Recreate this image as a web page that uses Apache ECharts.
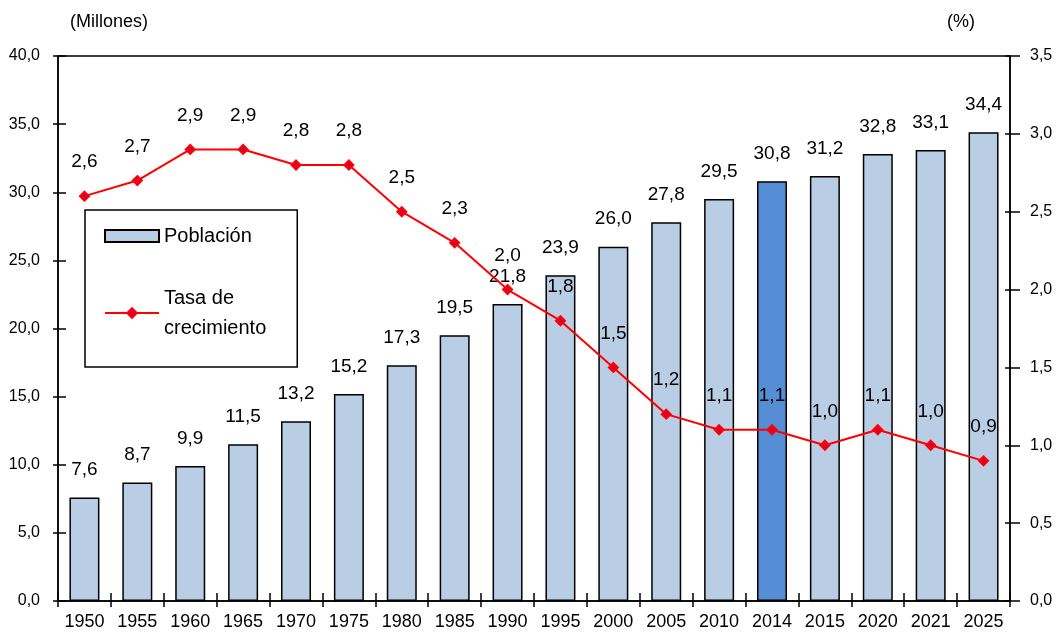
<!DOCTYPE html>
<html>
<head>
<meta charset="utf-8">
<script src="https://cdn.jsdelivr.net/npm/echarts@6/dist/echarts.min.js"></script>
<style>
  html, body { margin: 0; padding: 0; background: #fff; }
  #chart { width: 1060px; height: 634px; }
</style>
</head>
<body>
<div id="chart"></div>
<script>
// Years shown on the category axis
const years = ['1950', '1955', '1960', '1965', '1970', '1975', '1980', '1985', '1990',
  '1995', '2000', '2005', '2010', '2014', '2015', '2020', '2021', '2025'];

// Population, millions
const poblacion = [7.6, 8.7, 9.9, 11.5, 13.2, 15.2, 17.3, 19.5, 21.8,
  23.9, 26.0, 27.8, 29.5, 30.8, 31.2, 32.8, 33.1, 34.4];

// Annual growth rate, percent
const tasa = [2.6, 2.7, 2.9, 2.9, 2.8, 2.8, 2.5, 2.3, 2.0,
  1.8, 1.5, 1.2, 1.1, 1.1, 1.0, 1.1, 1.0, 0.9];

// Year whose bar is highlighted
const destacado = '2014';

const comma = v => v.toFixed(1).replace('.', ',');
const FONT = "'Liberation Sans', Arial, sans-serif";
const NARROW = "'Liberation Sans Narrow', 'Liberation Sans', Arial, sans-serif";

const chart = echarts.init(document.getElementById('chart'), null, { renderer: 'canvas' });

const barData = poblacion.map((v, i) => years[i] === destacado
  ? { value: v, itemStyle: { color: '#558ED5' } }
  : v);

const yLabel = { fontFamily: NARROW, fontSize: 16, color: '#000' };
const tickStyle = { color: '#000', width: 1.5 };

chart.setOption({
  animation: false,
  textStyle: { fontFamily: FONT, color: '#000' },
  grid: {
    left: 58, right: 50, top: 56, bottom: 33,
    show: true, borderColor: '#000', borderWidth: 1.5, backgroundColor: 'transparent'
  },
  legend: {
    left: 85, top: 210,
    orient: 'vertical',
    backgroundColor: '#fff',
    borderColor: '#000', borderWidth: 1.5, borderRadius: 0,
    padding: [11, 31, 9, 19],
    itemGap: 17,
    itemWidth: 54, itemHeight: 12,
    textStyle: { fontFamily: FONT, fontSize: 20, color: '#000', lineHeight: 30 },
    data: [
      { name: 'Población', icon: 'rect' },
      { name: 'Tasa de\ncrecimiento', textStyle: { padding: [30, 0, 0, 0] } }
    ]
  },
  xAxis: [
    {
      type: 'category', data: years, position: 'bottom',
      axisLine: { lineStyle: tickStyle },
      axisTick: { show: true, length: 6, lineStyle: tickStyle },
      axisLabel: { fontFamily: FONT, fontSize: 18, color: '#000', margin: 12, interval: 0 }
    },
    {
      // inner half of the crossing ticks on the category axis
      type: 'category', data: years, position: 'bottom', offset: 0,
      axisLine: { show: false },
      axisTick: { show: true, inside: true, length: 8, lineStyle: tickStyle },
      axisLabel: { show: false }
    }
  ],
  yAxis: [
    {
      type: 'value', min: 0, max: 40, interval: 5, position: 'left',
      name: '(Millones)', nameLocation: 'end', nameGap: 34,
      nameTextStyle: { fontFamily: FONT, fontSize: 18, color: '#000', align: 'left',
        verticalAlign: 'middle', padding: [0, 0, 0, 12] },
      axisLine: { show: true, lineStyle: tickStyle },
      axisTick: { show: true, length: 5, lineStyle: tickStyle },
      axisLabel: Object.assign({ margin: 18, formatter: comma }, yLabel),
      splitLine: { show: false }
    },
    {
      type: 'value', min: 0, max: 3.5, interval: 0.5, position: 'right',
      name: '(%)', nameLocation: 'end', nameGap: 34,
      nameTextStyle: { fontFamily: FONT, fontSize: 18, color: '#000', align: 'right',
        verticalAlign: 'middle', padding: [0, 35, 0, 0] },
      axisLine: { show: true, lineStyle: tickStyle },
      axisTick: { show: true, length: 10, lineStyle: tickStyle },
      axisLabel: Object.assign({ margin: 20, formatter: comma }, yLabel),
      splitLine: { show: false }
    },
    {
      // inner half of the crossing ticks, left scale
      type: 'value', min: 0, max: 40, interval: 5, position: 'left', offset: 0,
      axisLine: { show: false },
      axisTick: { show: true, inside: true, length: 8, lineStyle: tickStyle },
      axisLabel: { show: false }, splitLine: { show: false }
    },
    {
      // inner half of the crossing ticks, right scale
      type: 'value', min: 0, max: 3.5, interval: 0.5, position: 'right', offset: 0,
      axisLine: { show: false },
      axisTick: { show: true, inside: true, length: 5, lineStyle: tickStyle },
      axisLabel: { show: false }, splitLine: { show: false }
    }
  ],
  series: [
    {
      name: 'Población',
      type: 'bar',
      xAxisIndex: 0, yAxisIndex: 0,
      data: barData,
      barWidth: 30,
      itemStyle: { color: '#B9CDE5', borderColor: '#000', borderWidth: 1.5 },
      label: {
        show: true, position: 'top', distance: 18,
        fontFamily: FONT, fontSize: 19, color: '#000',
        formatter: p => comma(p.value)
      },
      z: 2
    },
    {
      name: 'Tasa de\ncrecimiento',
      type: 'line',
      xAxisIndex: 0, yAxisIndex: 1,
      data: tasa,
      symbol: 'diamond', symbolSize: 9,
      color: '#FF0000',
      lineStyle: { color: '#FF0000', width: 2 },
      itemStyle: { color: '#D4003A', borderColor: '#FF0000', borderWidth: 2 },
      label: {
        show: true, position: 'top', distance: 19,
        fontFamily: FONT, fontSize: 19, color: '#000',
        formatter: p => comma(p.value)
      },
      z: 5
    }
  ]
});
</script>
</body>
</html>
